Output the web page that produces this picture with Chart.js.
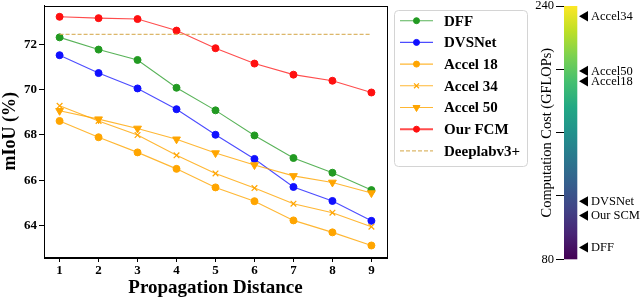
<!DOCTYPE html>
<html>
<head>
<meta charset="utf-8">
<script src="https://cdn.jsdelivr.net/npm/chart.js@4.4.1/dist/chart.umd.min.js"></script>
<style>
    html, body { margin: 0; padding: 0; background: #fff; }
    #wrap { position: relative; width: 640px; height: 300px; }
    #mainChart { position: absolute; left: 0; top: 0; }
    #barChart { position: absolute; left: 500px; top: 0; }
</style>
</head>
<body>
<div id="wrap">
    <canvas id="mainChart" width="640" height="300"></canvas>
    <canvas id="barChart" width="140" height="300"></canvas>
</div>
<script>
// data
const distances = [1, 2, 3, 4, 5, 6, 7, 8, 9];
const dff     = [72.32, 71.78, 71.32, 70.09, 69.09, 67.98, 66.98, 66.33, 65.56];
const dvsnet  = [71.53, 70.74, 70.06, 69.14, 68.01, 66.94, 65.70, 65.08, 64.20];
const accel18 = [68.62, 67.90, 67.23, 66.50, 65.68, 65.07, 64.22, 63.69, 63.11];
const accel34 = [69.29, 68.62, 68.00, 67.10, 66.30, 65.65, 64.96, 64.56, 63.94];
const accel50 = [69.07, 68.70, 68.29, 67.81, 67.20, 66.67, 66.19, 65.90, 65.43];
const ourFcm  = [73.23, 73.17, 73.13, 72.62, 71.84, 71.16, 70.67, 70.40, 69.88];
const deeplabv3 = 72.45;
const miouTicks = [64, 66, 68, 70, 72];

// colorbar
const costLabels = ['Accel34', 'Accel50', 'Accel18', 'DVSNet', 'Our SCM', 'DFF'];
const costValues = [233.5, 199, 192.5, 116.6, 107.6, 87.5];
const costTicks = [80, 120, 160, 200, 240];
const costMin = 80;
const costMax = 240;

const serif = "'Liberation Serif', 'Times New Roman', serif";

function toPoints(values) {
    return values.map((v, i) => ({ x: distances[i], y: v }));
}

function series(label, values, color, lineColor, extra) {
    return Object.assign({
        label: label,
        data: toPoints(values),
        borderColor: lineColor,
        backgroundColor: color,
        pointBackgroundColor: color,
        pointBorderColor: color,
        borderWidth: 1.1,
        pointRadius: 3.5,
        pointBorderWidth: 1,
        pointStyle: 'circle',
        pointRotation: 0,
        tension: 0
    }, extra || {});
}

const datasets = [
    series('DFF', dff, '#229a22', 'rgba(34,154,34,0.75)', { order: 7 }),
    series('DVSNet', dvsnet, '#1010ff', 'rgba(16,16,255,0.75)', { order: 6 }),
    series('Accel 18', accel18, '#ffa500', 'rgba(255,165,0,0.8)', { order: 5 }),
    series('Accel 34', accel34, '#ffa500', 'rgba(255,165,0,0.8)', { order: 4, pointStyle: 'crossRot', pointRadius: 4, pointBorderWidth: 1.2 }),
    series('Accel 50', accel50, '#ffa500', 'rgba(255,165,0,0.8)', { order: 3, pointStyle: 'triangle', pointRotation: 180, pointRadius: 4.5 }),
    series('Our FCM', ourFcm, '#ff1010', 'rgba(255,16,16,0.75)', { order: 2 }),
    {
        label: 'Deeplabv3+',
        data: [{ x: distances[0], y: deeplabv3 }, { x: distances[distances.length - 1], y: deeplabv3 }],
        borderColor: 'rgba(214,170,80,0.85)',
        borderWidth: 1.1,
        borderDash: [4, 2],
        pointRadius: 0,
        order: 1
    }
];

// black box round the plot area
const framePlugin = {
    id: 'frame',
    afterDatasetsDraw(chart) {
        const a = chart.chartArea;
        const ctx = chart.ctx;
        ctx.save();
        ctx.strokeStyle = '#000';
        ctx.lineWidth = 1;
        ctx.strokeRect(Math.round(a.left) + 0.5, Math.round(a.top) + 0.5,
            Math.round(a.right - a.left), Math.round(a.bottom - a.top));
        ctx.restore();
    }
};

// legend box to the right of the plot
const legendPlugin = {
    id: 'sideLegend',
    afterDraw(chart) {
        const ctx = chart.ctx;
        const x0 = 394, y0 = 10, w = 133, h = 156;
        ctx.save();
        ctx.beginPath();
        ctx.roundRect(x0 + 0.5, y0 + 0.5, w, h, 4);
        ctx.fillStyle = 'rgba(255,255,255,0.9)';
        ctx.fill();
        ctx.strokeStyle = '#d4d4d4';
        ctx.lineWidth = 1;
        ctx.stroke();

        chart.data.datasets.forEach((ds, i) => {
            const y = 20.7 + i * 21.7;
            ctx.save();
            ctx.strokeStyle = ds.borderColor;
            ctx.lineWidth = ds.label === 'Our FCM' ? 2 : ds.borderWidth;
            ctx.setLineDash(ds.borderDash || []);
            ctx.beginPath();
            ctx.moveTo(400, y);
            ctx.lineTo(433, y);
            ctx.stroke();
            ctx.restore();
            if (ds.pointRadius > 0) {
                ctx.save();
                ctx.fillStyle = ds.pointBackgroundColor;
                ctx.strokeStyle = ds.pointBorderColor;
                ctx.lineWidth = ds.pointBorderWidth;
                Chart.helpers.drawPoint(ctx, {
                    pointStyle: ds.pointStyle,
                    rotation: ds.pointRotation,
                    radius: ds.pointRadius - 0.5,
                    borderWidth: ds.pointBorderWidth
                }, 416.5, y);
                ctx.restore();
            }
            ctx.fillStyle = '#000';
            ctx.font = 'bold 15px ' + serif;
            ctx.textBaseline = 'middle';
            ctx.textAlign = 'left';
            ctx.fillText(ds.label, 444, y + 1);
        });
        ctx.restore();
    }
};

new Chart(document.getElementById('mainChart'), {
    type: 'line',
    data: { datasets: datasets },
    options: {
        responsive: false,
        animation: false,
        devicePixelRatio: 1,
        layout: { padding: { top: 1.5, right: 253, left: 0, bottom: 0 } },
        plugins: { legend: { display: false }, tooltip: { enabled: false } },
        scales: {
            x: {
                type: 'linear',
                min: 0.6,
                max: 9.4,
                afterBuildTicks: s => { s.ticks = distances.map(v => ({ value: v })); },
                afterFit: s => { s.height = 43; s.paddingLeft = 0; s.paddingRight = 0; },
                ticks: { font: { family: serif, size: 13, weight: 'bold' }, color: '#000', padding: 1, maxRotation: 0, autoSkip: false },
                grid: { drawOnChartArea: false, tickLength: 5, tickColor: '#000', tickWidth: 1 },
                border: { color: '#000', width: 1 },
                title: {
                    display: true, text: 'Propagation Distance', color: '#000',
                    font: { family: serif, size: 19, weight: 'bold' },
                    padding: { top: 0, bottom: 1 }
                }
            },
            y: {
                type: 'linear',
                min: 62.6,
                max: 73.73,
                afterBuildTicks: s => { s.ticks = miouTicks.map(v => ({ value: v })); },
                afterFit: s => { s.width = 44; s.paddingTop = 0; s.paddingBottom = 0; },
                ticks: { font: { family: serif, size: 13, weight: 'bold' }, color: '#000', padding: 2 },
                grid: { drawOnChartArea: false, tickLength: 5, tickColor: '#000', tickWidth: 1 },
                border: { color: '#000', width: 1 },
                title: {
                    display: true, text: 'mIoU (%)', color: '#000',
                    font: { family: serif, size: 18, weight: 'bold' },
                    padding: { top: 0, bottom: 0 }
                }
            }
        }
    },
    plugins: [framePlugin, legendPlugin]
});

// viridis strip between costMin and costMax
const viridis = ['#440154', '#482475', '#414487', '#355f8d', '#2a788e', '#21918c',
    '#22a884', '#44bf70', '#7ad151', '#bddf26', '#fde725'];

const gradientPlugin = {
    id: 'viridisBar',
    beforeDatasetsDraw(chart) {
        const ctx = chart.ctx;
        const xs = chart.scales.x, ys = chart.scales.y;
        const left = xs.getPixelForValue(0), right = xs.getPixelForValue(1);
        const top = ys.getPixelForValue(costMax), bottom = ys.getPixelForValue(costMin);
        const g = ctx.createLinearGradient(0, bottom, 0, top);
        viridis.forEach((c, i) => g.addColorStop(i / (viridis.length - 1), c));
        ctx.save();
        ctx.fillStyle = g;
        ctx.fillRect(left, top, right - left, bottom - top);
        ctx.restore();
    }
};

const arrowLabelPlugin = {
    id: 'arrowLabels',
    afterDatasetsDraw(chart) {
        const ctx = chart.ctx;
        const meta = chart.getDatasetMeta(0);
        ctx.save();
        ctx.fillStyle = '#000';
        ctx.font = '12.5px ' + serif;
        ctx.textBaseline = 'middle';
        meta.data.forEach((el, i) => {
            ctx.fillText(costLabels[i], el.x + 6, el.y + 0.5);
        });
        ctx.restore();
    }
};

new Chart(document.getElementById('barChart'), {
    type: 'scatter',
    data: {
        datasets: [{
            data: costValues.map(v => ({ x: 1.58, y: v })),
            pointStyle: 'triangle',
            pointRotation: -90,
            pointRadius: 6,
            pointBackgroundColor: '#000',
            pointBorderColor: '#000',
            pointBorderWidth: 0
        }]
    },
    options: {
        responsive: false,
        animation: false,
        devicePixelRatio: 1,
        layout: { padding: { top: 4.7, bottom: 40.7, left: 0, right: 49.4 } },
        plugins: { legend: { display: false }, tooltip: { enabled: false } },
        scales: {
            x: { type: 'linear', min: 0, max: 2, display: false },
            y: {
                type: 'linear',
                position: 'left',
                min: costMin,
                max: costMax,
                afterBuildTicks: s => { s.ticks = costTicks.map(v => ({ value: v })); },
                afterFit: s => { s.width = 64; s.paddingTop = 0; s.paddingBottom = 0; },
                ticks: {
                    font: { family: serif, size: 12.5 }, color: '#000', padding: 2,
                    callback: v => (v === costMin || v === costMax) ? String(v) : ''
                },
                grid: { drawOnChartArea: false, tickLength: 8, tickColor: '#000', tickWidth: 1 },
                border: { display: false },
                title: {
                    display: true, text: 'Computation Cost (GFLOPs)', color: '#000',
                    font: { family: serif, size: 14.4 },
                    padding: { top: 39, bottom: 0 }
                }
            }
        }
    },
    plugins: [gradientPlugin, arrowLabelPlugin]
});
</script>
</body>
</html>
